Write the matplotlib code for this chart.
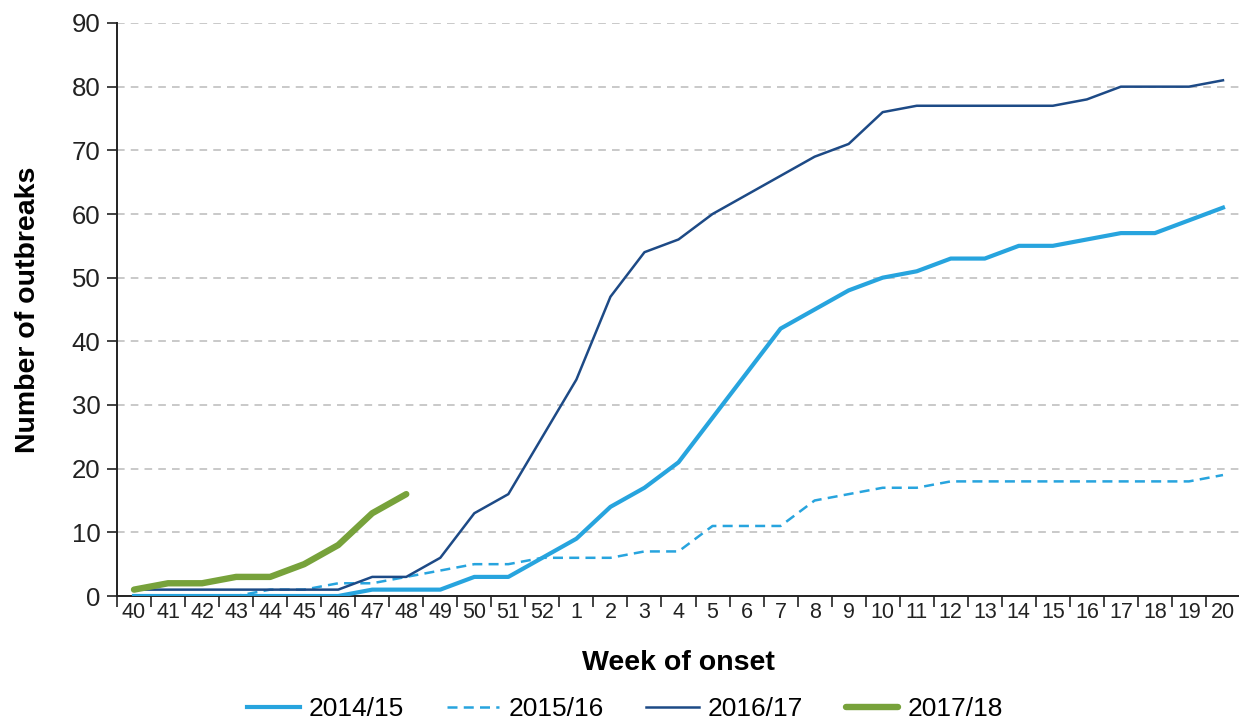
import matplotlib
matplotlib.use("Agg")
import matplotlib.pyplot as plt
import numpy as np

plt.rcParams['font.family'] = ['Liberation Sans', 'DejaVu Sans']

weeks = ["40", "41", "42", "43", "44", "45", "46", "47", "48", "49", "50", "51", "52",
         "1", "2", "3", "4", "5", "6", "7", "8", "9", "10", "11", "12", "13", "14",
         "15", "16", "17", "18", "19", "20"]

s2014 = [0, 0, 0, 0, 0, 0, 0, 1, 1, 1, 3, 3, 6,
         9, 14, 17, 21, 28, 35, 42, 45, 48, 50, 51, 53, 53, 55, 55, 56, 57, 57, 59, 61]
s2015 = [0, 0, 0, 0, 1, 1, 2, 2, 3, 4, 5, 5, 6,
         6, 6, 7, 7, 11, 11, 11, 15, 16, 17, 17, 18, 18, 18, 18, 18, 18, 18, 18, 19]
s2016 = [1, 1, 1, 1, 1, 1, 1, 3, 3, 6, 13, 16, 25,
         34, 47, 54, 56, 60, 63, 66, 69, 71, 76, 77, 77, 77, 77, 77, 78, 80, 80, 80, 81]
s2017 = [1, 2, 2, 3, 3, 5, 8, 13, 16]

light = "#27a4de"
navy = "#1d4a86"
green = "#77a23b"

fig = plt.figure(figsize=(12.39, 7.27), dpi=100)
ax = fig.add_axes([117/1239, 1-596/727, 1123/1239, 573/727])

x = np.arange(len(weeks))
ax.plot(x, s2014, color=light, lw=3.0, label="2014/15", zorder=3)
ax.plot(x, s2015, color=light, lw=1.8, ls=(0, (4, 2.5)), label="2015/16", zorder=3)
ax.plot(x, s2016, color=navy, lw=1.8, label="2016/17", zorder=3)
ax.plot(x[:len(s2017)], s2017, color=green, lw=4.6, label="2017/18",
        solid_capstyle="round", zorder=4)

ax.set_xlim(-0.5, len(weeks) - 0.5)
ax.set_ylim(0, 90)
ax.set_yticks(np.arange(0, 91, 10))
ax.set_xticks(x)
ax.set_xticklabels(weeks, fontsize=15.5)
ax.set_xticks(np.arange(-0.5, len(weeks), 1), minor=True)
ax.tick_params(axis='x', which='major', length=0, pad=4, colors='#222222')
ax.tick_params(axis='x', which='minor', length=8, width=1.2, direction='out', color='#222222')
ax.tick_params(axis='y', length=7, width=1.2, labelsize=18.5, colors='#222222', pad=5)

ax.grid(axis='y', ls=(0, (5, 4)), color='#bbbbbb', lw=1.1)
ax.set_axisbelow(True)
for s in ['top', 'right']:
    ax.spines[s].set_visible(False)
for s in ['left', 'bottom']:
    ax.spines[s].set_linewidth(1.4)
    ax.spines[s].set_color('#222222')

ax.set_ylabel("Number of outbreaks", fontsize=20.5, fontweight='bold', labelpad=22)
ax.set_xlabel("Week of onset", fontsize=20.5, fontweight='bold', labelpad=20)

leg = fig.legend(loc='center', bbox_to_anchor=(625/1239, 1-709/727), ncol=4, frameon=False,
                 fontsize=19, handlelength=2.0, columnspacing=1.6, handletextpad=0.35,
                 borderaxespad=0, borderpad=0)

fig.savefig("out.png", dpi=100)
